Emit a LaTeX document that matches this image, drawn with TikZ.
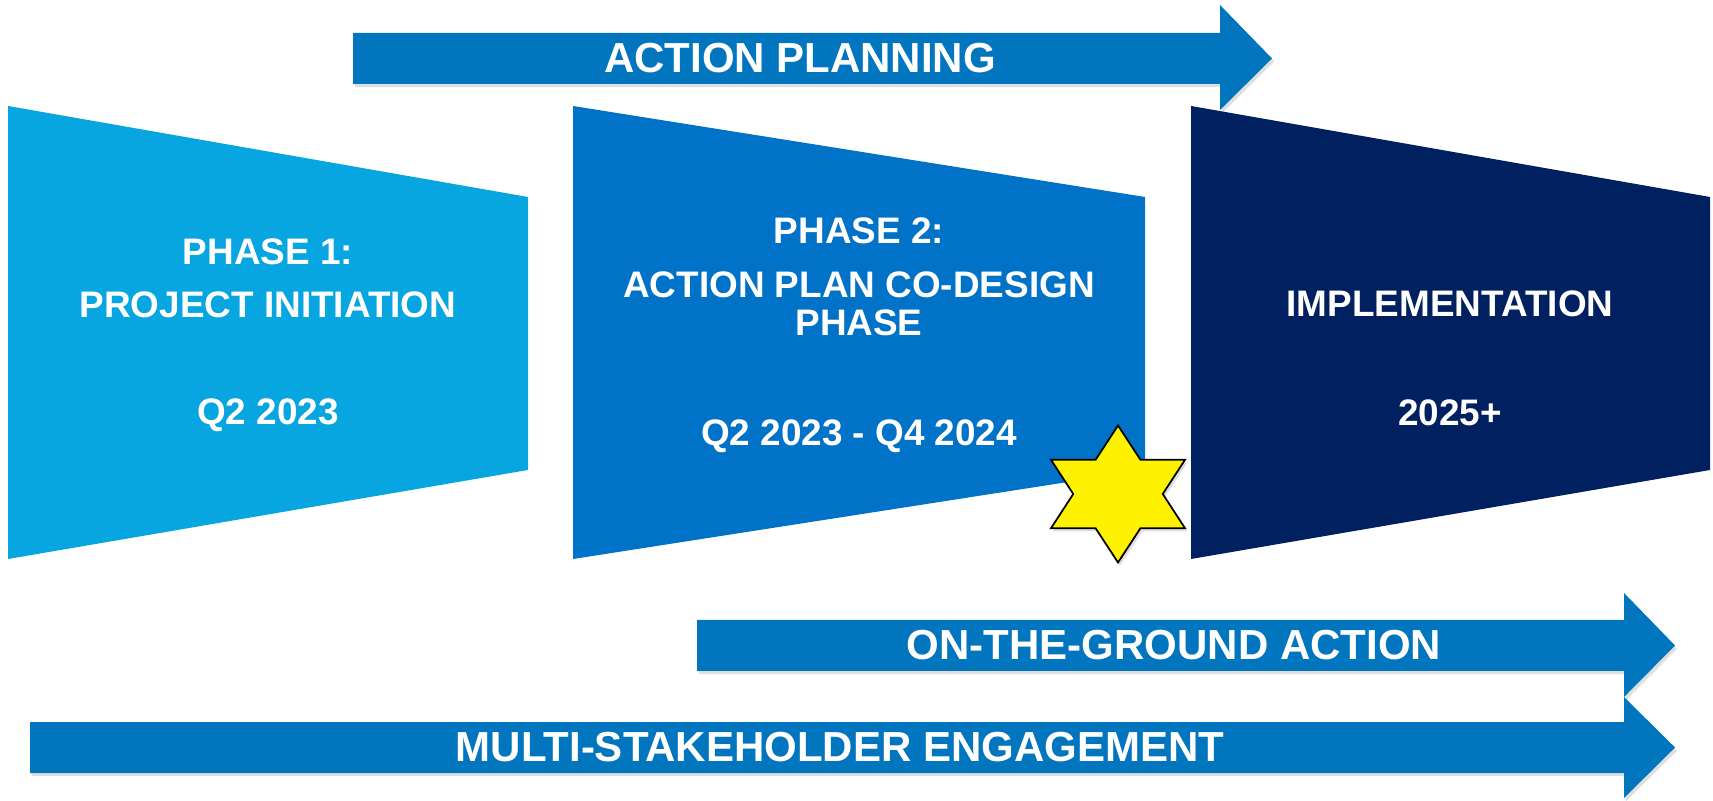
\documentclass[tikz,border=0pt]{standalone}
\usepackage{fontspec}
\setmainfont{Liberation Sans}
\usetikzlibrary{shapes.geometric,shadows}

\definecolor{phaseone}{RGB}{7,166,224}
\definecolor{phasetwo}{RGB}{0,114,199}
\definecolor{phasethree}{RGB}{0,32,96}
\definecolor{arrowblue}{RGB}{1,117,190}

\tikzset{
  bararrow/.style={fill=arrowblue, drop shadow={opacity=0.25, shadow xshift=0.6pt, shadow yshift=-0.9pt}},
  arrowlabel/.style={text=white, inner sep=0pt, font=\fontsize{11.95}{13}\selectfont\bfseries},
  phaselabel/.style={text=white, inner sep=0pt, align=center, font=\fontsize{10.5}{10.8}\selectfont\bfseries},
  sixstar/.style={star, star points=6, star point ratio=1.73, minimum size=1.37cm, inner sep=0pt,
    fill=yellow, draw=black, line width=0.5pt, transform shape,
    drop shadow={opacity=0.25, shadow xshift=0.6pt, shadow yshift=-0.9pt}},
}

\begin{document}
\begin{tikzpicture}
        \useasboundingbox (0,0) rectangle (17.13,8);

        % Phases
        \fill[phaseone] (0.08,6.94) -- (5.28,6.03) -- (5.28,3.30) -- (0.08,2.41) -- cycle;
        \fill[phasetwo] (5.73,6.94) -- (11.45,6.03) -- (11.45,3.30) -- (5.73,2.41) -- cycle;
        \fill[phasethree] (11.91,6.94) -- (17.10,6.03) -- (17.10,3.30) -- (11.91,2.41) -- cycle;

        \node[phaselabel] (phase1) at (2.68,4.645) {PHASE 1:\\[4.3pt]PROJECT INITIATION\\[19.6pt]Q2 2023};
        \node[phaselabel] (phase2) at (8.59,4.645) {PHASE 2:\\[4.6pt]ACTION PLAN CO-DESIGN\\PHASE\\[20.5pt]Q2 2023 - Q4 2024};
        \node[phaselabel] (impl) at (14.50,4.42) {IMPLEMENTATION\\[20.2pt]2025+};

        % Action Planning
        \fill[bararrow] (3.53,7.67) -- (12.20,7.67) -- (12.20,7.95) -- (12.72,7.415)
            -- (12.20,6.90) -- (12.20,7.16) -- (3.53,7.16) -- cycle;
        \node[arrowlabel] (planning) at (8.00,7.415) {ACTION PLANNING};

        % On-the-ground Action
        \fill[bararrow] (6.97,1.80) -- (16.24,1.80) -- (16.24,2.07) -- (16.75,1.545)
            -- (16.24,1.03) -- (16.24,1.29) -- (6.97,1.29) -- cycle;
        \node[arrowlabel] (ground) at (11.74,1.545) {ON-THE-GROUND ACTION};

        % Multi-stakeholder Engagement
        \fill[bararrow] (0.30,0.78) -- (16.24,0.78) -- (16.24,1.03) -- (16.75,0.525)
            -- (16.24,0.02) -- (16.24,0.27) -- (0.30,0.27) -- cycle;
        \node[arrowlabel] (engage) at (8.40,0.525) {MULTI-STAKEHOLDER ENGAGEMENT};

        % Star
        \begin{scope}[shift={(11.18,3.06)}, xscale=1.13]
            \node[sixstar] (star) at (0,0) {};
        \end{scope}
\end{tikzpicture}
\end{document}
